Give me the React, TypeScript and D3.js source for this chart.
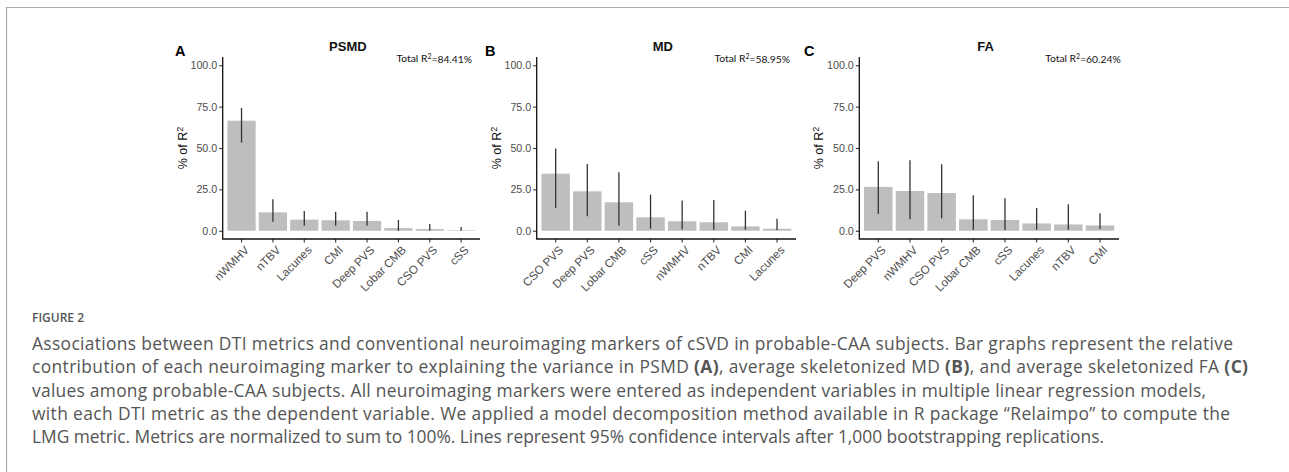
import React, { useEffect, useRef } from 'react';
import * as d3 from 'd3';

// panel A - PSMD
const psmdLabels = ['nWMHV', 'nTBV', 'Lacunes', 'CMI', 'Deep PVS', 'Lobar CMB', 'CSO PVS', 'cSS'];
const psmdValues = [66.5, 11.1, 6.7, 6.3, 5.9, 1.6, 1.0, 0.3];
const psmdLower = [53.3, 5.5, 3.0, 3.0, 3.0, 0.0, 0.0, 0.0];
const psmdUpper = [74.2, 19.0, 11.9, 11.5, 11.5, 6.5, 4.1, 2.2];

// panel B - MD
const mdLabels = ['CSO PVS', 'Deep PVS', 'Lobar CMB', 'cSS', 'nWMHV', 'nTBV', 'CMI', 'Lacunes'];
const mdValues = [34.5, 23.8, 17.2, 8.1, 5.7, 5.1, 2.6, 1.2];
const mdLower = [13.7, 8.7, 3.0, 1.2, 0.8, 0.4, 0.6, 0.4];
const mdUpper = [49.7, 40.4, 35.4, 21.8, 18.2, 18.6, 12.1, 7.3];

// panel C - FA
const faLabels = ['Deep PVS', 'nWMHV', 'CSO PVS', 'Lobar CMB', 'cSS', 'Lacunes', 'nTBV', 'CMI'];
const faValues = [26.5, 24.0, 22.8, 6.9, 6.5, 4.4, 3.8, 3.2];
const faLower = [10.1, 6.9, 7.5, 0.4, 0.4, 0.6, 0.6, 1.0];
const faUpper = [42.0, 42.6, 40.2, 21.4, 19.6, 13.7, 16.0, 10.5];

const yTicks = [0, 25, 50, 75, 100];

const captionLines = [
    'Associations between DTI metrics and conventional neuroimaging markers of cSVD in probable-CAA subjects. Bar graphs represent the relative',
    null, // line with bold parts, built below
    'values among probable-CAA subjects. All neuroimaging markers were entered as independent variables in multiple linear regression models,',
    'with each DTI metric as the dependent variable. We applied a model decomposition method available in R package \u201cRelaimpo\u201d to compute the',
    'LMG metric. Metrics are normalized to sum to 100%. Lines represent 95% confidence intervals after 1,000 bootstrapping replications.',
];
const captionLine2 = [
    { t: 'contribution of each neuroimaging marker to explaining the variance in PSMD ', b: false },
    { t: '(A)', b: true },
    { t: ', average skeletonized MD ', b: false },
    { t: '(B)', b: true },
    { t: ', and average skeletonized FA ', b: false },
    { t: '(C)', b: true },
];
// right end of each caption line in the page
const captionEnds = [1233, 1248, 1206, 1230, 1104];

const panels = [
    { tag: 'A', title: 'PSMD', total: '84.41%', labels: psmdLabels, values: psmdValues, lower: psmdLower, upper: psmdUpper, x0: 222.7, x1: 480, totalX: 472, tagX: 175 },
    { tag: 'B', title: 'MD', total: '58.95%', labels: mdLabels, values: mdValues, lower: mdLower, upper: mdUpper, x0: 536.7, x1: 796, totalX: 790, tagX: 485 },
    { tag: 'C', title: 'FA', total: '60.24%', labels: faLabels, values: faValues, lower: faLower, upper: faUpper, x0: 859.3, x1: 1119, totalX: 1120.7, tagX: 804 },
];

const W = 1289;
const H = 472;
const sans = '"Liberation Sans", Arial, sans-serif';

const App = () => {
    const svgRef = useRef<SVGSVGElement | null>(null);

    useEffect(() => {
        const svg = d3.select(svgRef.current);
        svg.selectAll('*').remove();

        // outer frame (top and left rule)
        svg.append('path')
            .attr('d', `M6.5,${H} V7.5 H${W}`)
            .attr('fill', 'none')
            .attr('stroke', '#ababab')
            .attr('stroke-width', 1.2);

        const yScale = d3.scaleLinear().domain([-5, 105]).range([239, 57]);

        panels.forEach(p => {
            const g = svg.append('g');
            const xScale = d3.scaleBand<string>()
                .domain(p.labels)
                .range([p.x0, p.x1])
                .paddingInner(0.1)
                .paddingOuter(0.15);

            // bars
            g.selectAll('rect.bar')
                .data(p.values)
                .enter()
                .append('rect')
                .attr('class', 'bar')
                .attr('x', (d, i) => xScale(p.labels[i]) as number)
                .attr('width', xScale.bandwidth())
                .attr('y', d => yScale(d))
                .attr('height', d => yScale(0) - yScale(d))
                .attr('fill', '#bebebe');

            // 95% CI lines
            g.selectAll('line.ci')
                .data(p.values)
                .enter()
                .append('line')
                .attr('class', 'ci')
                .attr('x1', (d, i) => (xScale(p.labels[i]) as number) + xScale.bandwidth() / 2)
                .attr('x2', (d, i) => (xScale(p.labels[i]) as number) + xScale.bandwidth() / 2)
                .attr('y1', (d, i) => yScale(p.lower[i]))
                .attr('y2', (d, i) => yScale(p.upper[i]))
                .attr('stroke', '#333')
                .attr('stroke-width', 1.3);

            // axes
            const yAxis = g.append('g')
                .attr('transform', `translate(${p.x0},0)`)
                .call(d3.axisLeft(yScale).tickValues(yTicks).tickFormat(d3.format('.1f')).tickSize(3.5).tickPadding(2));
            yAxis.select('.domain').remove();
            yAxis.selectAll('line').attr('stroke', '#333').attr('stroke-width', 1.1);
            yAxis.selectAll('text')
                .attr('fill', '#4d4d4d')
                .style('font-family', sans)
                .style('font-size', '10.7px');

            const xAxis = g.append('g')
                .attr('transform', 'translate(0,239)')
                .call(d3.axisBottom(xScale).tickSize(3.5).tickFormat(() => ''));
            xAxis.select('.domain').remove();
            xAxis.selectAll('line').attr('stroke', '#333').attr('stroke-width', 1.1);

            g.selectAll('text.xlab')
                .data(p.labels)
                .enter()
                .append('text')
                .attr('class', 'xlab')
                .attr('transform', d => `translate(${(xScale(d) as number) + xScale.bandwidth() / 2 + 2.5},${245}) rotate(-45)`)
                .attr('text-anchor', 'end')
                .attr('dy', '0.7em')
                .attr('fill', '#4d4d4d')
                .style('font-family', sans)
                .style('font-size', '11.6px')
                .text(d => d);

            g.append('path')
                .attr('d', `M${p.x0},57 V239 H${p.x1}`)
                .attr('fill', 'none')
                .attr('stroke', '#111')
                .attr('stroke-width', 1.3);

            // y label
            const yl = g.append('text')
                .attr('transform', `translate(${p.x0 - 36},148) rotate(-90)`)
                .attr('text-anchor', 'middle')
                .attr('fill', '#111')
                .style('font-family', sans)
                .style('font-size', '12.5px');
            yl.append('tspan').text('% of R');
            yl.append('tspan').attr('dy', '-0.45em').style('font-size', '9px').text('2');

            // title, tag, total R2
            g.append('text')
                .attr('x', (p.x0 + p.x1) / 2 - 3.5)
                .attr('y', 50.5)
                .attr('text-anchor', 'middle')
                .attr('fill', '#111')
                .style('font-family', sans)
                .style('font-weight', 'bold')
                .style('font-size', '13px')
                .text(p.title);

            g.append('text')
                .attr('x', p.tagX)
                .attr('y', 56)
                .attr('fill', '#000')
                .style('font-family', sans)
                .style('font-weight', 'bold')
                .style('font-size', '14.5px')
                .text(p.tag);

            const tr = g.append('text')
                .attr('x', p.totalX)
                .attr('y', 62)
                .attr('text-anchor', 'end')
                .attr('fill', '#111')
                .style('font-family', 'Lato, sans-serif')
                .style('font-size', '10.3px');
            tr.append('tspan').text('Total R');
            tr.append('tspan').attr('dy', '-0.4em').style('font-size', '7px').text('2');
            tr.append('tspan').attr('dy', '0.4em').text(`=${p.total}`);
        });

        // caption
        svg.append('text')
            .attr('x', 32)
            .attr('y', 322)
            .attr('fill', '#555')
            .style('font-family', '"Open Sans", sans-serif')
            .style('font-weight', 600)
            .style('font-size', '12px')
            .text('FIGURE 2');

        captionLines.forEach((line, i) => {
            const t = svg.append('text')
                .attr('x', 32)
                .attr('y', 350 + i * 23.3)
                .attr('fill', '#555')
                .attr('textLength', captionEnds[i] - 32)
                .attr('lengthAdjust', 'spacing')
                .style('font-family', '"Open Sans", sans-serif')
                .style('font-size', '17.4px');
            if (line) {
                t.text(line);
            } else {
                captionLine2.forEach(part => {
                    t.append('tspan').style('font-weight', part.b ? 700 : 400).text(part.t);
                });
            }
        });
    }, []);

    return (
        <svg ref={svgRef} width={W} height={H} style={{ position: 'absolute', left: 0, top: 0, background: '#fff' }}></svg>
    );
};

export default App;
